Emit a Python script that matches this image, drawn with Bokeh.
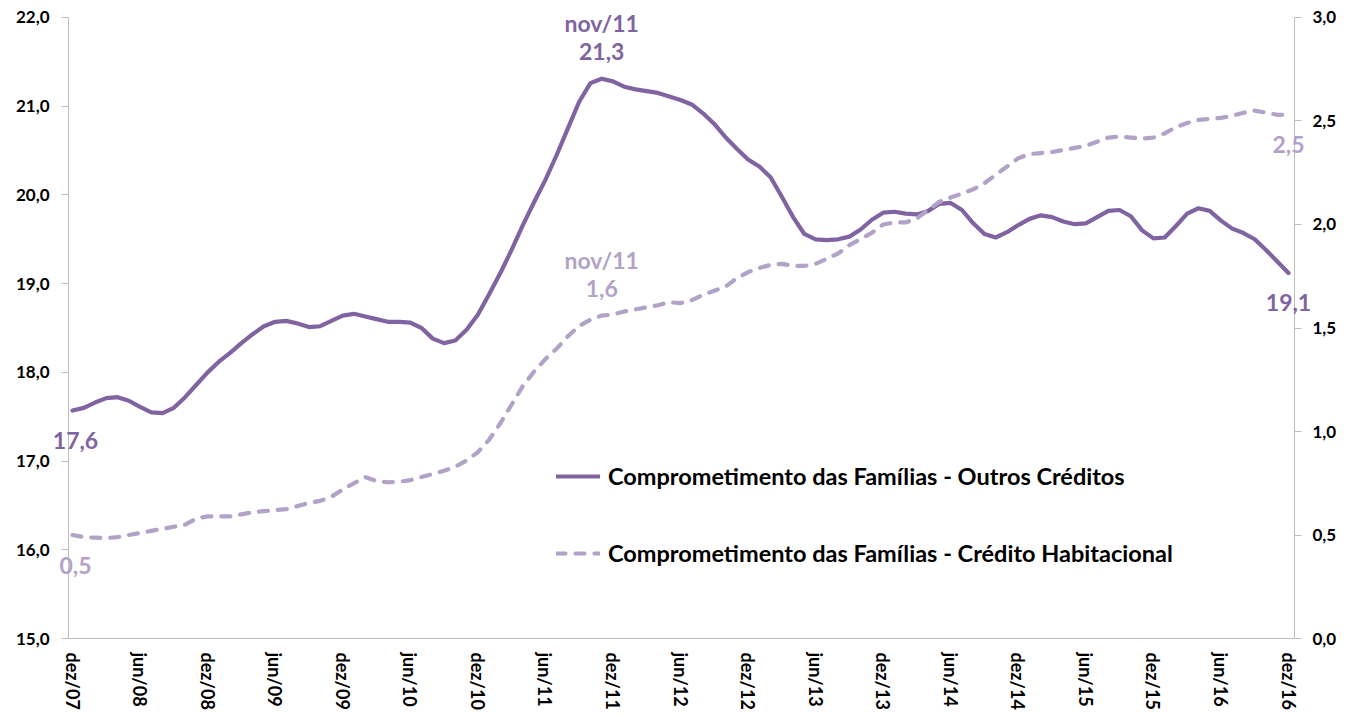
from bokeh.plotting import figure
from bokeh.models import (Range1d, LinearAxis, FixedTicker, CustomJSTickFormatter,
                          Legend, LegendItem, Label)
from bokeh.embed import file_html
from bokeh.resources import INLINE

# ---------------- data ----------------
x_tick_labels = ["dez/07", "jun/08", "dez/08", "jun/09", "dez/09", "jun/10", "dez/10",
                 "jun/11", "dez/11", "jun/12", "dez/12", "jun/13", "dez/13", "jun/14",
                 "dez/14", "jun/15", "dez/15", "jun/16", "dez/16"]

# monthly, dez/07 .. dez/16 (left axis)
outros_creditos = [
    17.57, 17.60, 17.66, 17.71, 17.72, 17.68, 17.61, 17.55, 17.54, 17.60, 17.72, 17.86,
    18.00, 18.12, 18.22, 18.33, 18.43, 18.52, 18.57, 18.58, 18.55, 18.51, 18.52, 18.58,
    18.64, 18.66, 18.63, 18.60, 18.57, 18.57, 18.56, 18.50, 18.38, 18.33, 18.36, 18.48,
    18.65, 18.88, 19.12, 19.38, 19.66, 19.92, 20.17, 20.45, 20.75, 21.05, 21.26, 21.31,
    21.28, 21.22, 21.19, 21.17, 21.15, 21.11, 21.07, 21.02, 20.92, 20.80, 20.65, 20.52,
    20.40, 20.32, 20.20, 19.98, 19.75, 19.56, 19.50, 19.49, 19.50, 19.53, 19.61, 19.72,
    19.80, 19.81, 19.79, 19.78, 19.82, 19.90, 19.91, 19.83, 19.68, 19.56, 19.52, 19.58,
    19.66, 19.73, 19.77, 19.75, 19.70, 19.67, 19.68, 19.75, 19.82, 19.83, 19.76, 19.60,
    19.51, 19.52, 19.65, 19.79, 19.85, 19.82, 19.71, 19.62, 19.57, 19.50, 19.38, 19.25,
    19.12]

# monthly, dez/07 .. dez/16 (right axis)
credito_habitacional = [
    0.50, 0.49, 0.487, 0.485, 0.49, 0.50, 0.51, 0.52, 0.53, 0.54, 0.55, 0.58,
    0.59, 0.59, 0.59, 0.60, 0.61, 0.615, 0.62, 0.625, 0.64, 0.655, 0.665, 0.685,
    0.72, 0.75, 0.78, 0.76, 0.755, 0.757, 0.765, 0.78, 0.795, 0.81, 0.83, 0.86,
    0.90, 0.96, 1.04, 1.13, 1.22, 1.29, 1.35, 1.40, 1.46, 1.51, 1.54, 1.56,
    1.565, 1.58, 1.59, 1.60, 1.61, 1.625, 1.62, 1.635, 1.66, 1.68, 1.70, 1.74,
    1.77, 1.79, 1.805, 1.81, 1.80, 1.80, 1.81, 1.835, 1.86, 1.90, 1.93, 1.96,
    2.00, 2.01, 2.01, 2.03, 2.07, 2.11, 2.13, 2.15, 2.17, 2.20, 2.24, 2.28,
    2.32, 2.34, 2.345, 2.35, 2.36, 2.37, 2.38, 2.40, 2.42, 2.425, 2.42, 2.415,
    2.42, 2.44, 2.47, 2.49, 2.505, 2.51, 2.515, 2.525, 2.54, 2.55, 2.54, 2.53,
    2.53]

peak_index = 47          # nov/11
peak_label = "nov/11"
left_ticks = [15, 16, 17, 18, 19, 20, 21, 22]
right_ticks = [0.0, 0.5, 1.0, 1.5, 2.0, 2.5, 3.0]
series_names = ["Comprometimento das Famílias - Outros Créditos",
                "Comprometimento das Famílias - Crédito Habitacional"]

# ---------------- styling / layout ----------------
C1 = "#8064A2"
C2 = "#B3A2C7"
AX = "#BEBEBE"
FONT = "Lato"

W, H = 1342, 712
PLOT_LEFT_PX, PLOT_RIGHT_PX = 68, 1294     # where the two value axes sit
FIRST_PX, LAST_PX = 72, 1288               # first / last month position
TOP_PX, BOTTOM_PX = 17, 639                # top / bottom tick of the value axes
FRAME_TOP = 7
FRAME_BOTTOM = 650

n = len(outros_creditos)
months = list(range(n))
tick_pos = [i * 6 for i in range(len(x_tick_labels))]

mpx = (LAST_PX - FIRST_PX) / (n - 1)                 # pixels per month
x_lo = (PLOT_LEFT_PX - FIRST_PX) / mpx
x_hi = (PLOT_RIGHT_PX - FIRST_PX) / mpx
x_start = (0 - FIRST_PX) / mpx
x_end = (W - FIRST_PX) / mpx

def yrange(lo, hi):
    ppu = (BOTTOM_PX - TOP_PX) / (hi - lo)
    return Range1d(lo - (FRAME_BOTTOM - BOTTOM_PX) / ppu, hi + (TOP_PX - FRAME_TOP) / ppu)

p = figure(width=W, height=H, output_backend="svg", toolbar_location=None,
           x_range=Range1d(x_start, x_end),
           y_range=yrange(left_ticks[0], left_ticks[-1]),
           y_axis_location=None,
           min_border_left=0, min_border_right=0, min_border_top=FRAME_TOP,
           min_border_bottom=H - FRAME_BOTTOM)
p.extra_y_ranges = {"right": yrange(right_ticks[0], right_ticks[-1])}
p.outline_line_color = None
p.xgrid.visible = False
p.ygrid.visible = False
p.background_fill_color = "white"
p.border_fill_color = "white"

fmt = CustomJSTickFormatter(code="return tick.toFixed(1).replace('.', ',');")

# x axis (labels only; baseline drawn between the two value axes)
xa = p.xaxis[0]
xa.ticker = FixedTicker(ticks=tick_pos)
xa.major_label_overrides = {pos: lab for pos, lab in zip(tick_pos, x_tick_labels)}
xa.major_label_orientation = -1.5707963
xa.major_tick_out = 0
xa.major_tick_in = 0
xa.minor_tick_out = 0
xa.minor_tick_in = 0
xa.axis_line_color = None
xa.major_label_standoff = 3
xa.major_label_text_font = FONT
xa.major_label_text_font_style = "bold"
xa.major_label_text_font_size = "18px"
xa.major_label_text_color = "black"

def style_y(ax, standoff):
    ax.axis_line_color = AX
    ax.major_tick_line_color = AX
    ax.major_tick_out = 7
    ax.major_tick_in = 0
    ax.minor_tick_out = 0
    ax.minor_tick_in = 0
    ax.major_label_standoff = standoff
    ax.major_label_text_font = FONT
    ax.major_label_text_font_style = "bold"
    ax.major_label_text_font_size = "17px"
    ax.major_label_text_color = "black"

la = LinearAxis(ticker=FixedTicker(ticks=left_ticks), formatter=fmt, fixed_location=x_lo,
                bounds=(left_ticks[0], left_ticks[-1]))
style_y(la, 12)
p.add_layout(la, "left")

ra = LinearAxis(y_range_name="right", ticker=FixedTicker(ticks=right_ticks), formatter=fmt,
                fixed_location=x_hi, bounds=(right_ticks[0], right_ticks[-1]))
style_y(ra, 11)
p.add_layout(ra, "right")

# baseline of the category axis
p.segment(x0=[x_lo], y0=[left_ticks[0]], x1=[x_hi], y1=[left_ticks[0]],
          line_color=AX, line_width=1)

# lines
r1 = p.line(months, outros_creditos, line_color=C1, line_width=4.2, line_join="round",
            line_cap="round")
r2 = p.line(months, credito_habitacional, line_color=C2, line_width=4.2, line_dash="9 10",
            line_cap="round", line_join="round", y_range_name="right")

# annotations (value labels)
def fmtv(v):
    return f"{v:.1f}".replace(".", ",")

def add_labels(series, color, range_name):
    specs = [
        (0, fmtv(series[0]), 3, -30),
        (peak_index, fmtv(series[peak_index]), 0, 27),
        (peak_index, peak_label, 0, 56),
        (len(series) - 1, fmtv(series[-1]), 0, -30),
    ]
    for xi, txt, dx, dy in specs:
        lab = Label(x=xi, y=series[xi], text=txt, x_offset=dx, y_offset=dy,
                    y_range_name=range_name, text_color=color, text_font=FONT,
                    text_font_style="bold", text_font_size="23px",
                    text_align="center", text_baseline="middle")
        p.add_layout(lab)

add_labels(outros_creditos, C1, "default")
add_labels(credito_habitacional, C2, "right")

legend = Legend(items=[LegendItem(label=series_names[0], renderers=[r1]),
                       LegendItem(label=series_names[1], renderers=[r2])],
                location=(556, 82), orientation="vertical")
legend.background_fill_alpha = 0
legend.border_line_color = None
legend.padding = 0
legend.margin = 0
legend.spacing = 49
legend.glyph_width = 44
legend.glyph_height = 24
legend.label_height = 24
legend.label_standoff = 8
legend.label_text_font = FONT
legend.label_text_font_style = "bold"
legend.label_text_font_size = "23.5px"
legend.label_text_color = "black"
p.add_layout(legend, "center")

open("out.html", "w").write(file_html(p, INLINE))
